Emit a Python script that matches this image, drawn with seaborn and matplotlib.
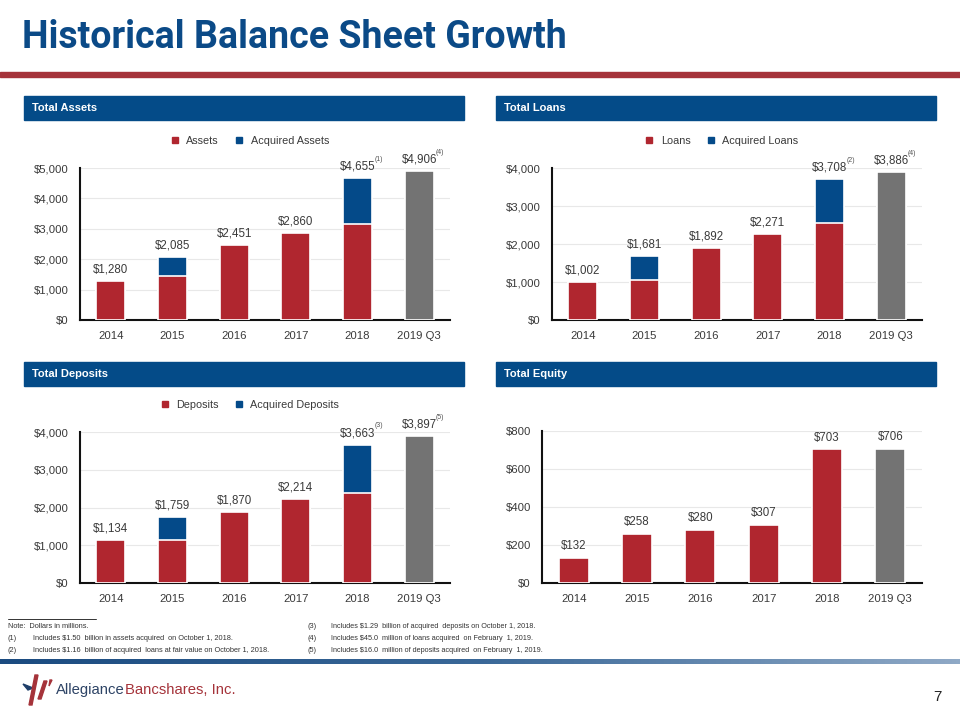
import numpy as np
import pandas as pd
import seaborn as sns
import matplotlib.pyplot as plt
from matplotlib.patches import Rectangle, Polygon
from matplotlib.lines import Line2D
from matplotlib.ticker import FuncFormatter
from matplotlib.colors import LinearSegmentedColormap

sns.set_style("white")
plt.rcParams['font.family'] = ['Liberation Sans', 'DejaVu Sans']

# data (dollars in millions)
years = ["2014", "2015", "2016", "2017", "2018", "2019 Q3"]

assets_total = [1280, 2085, 2451, 2860, 4655, 4906]
assets_acquired = [0, 635, 0, 0, 1500, 0]
loans_total = [1002, 1681, 1892, 2271, 3708, 3886]
loans_acquired = [0, 621, 0, 0, 1160, 0]
deposits_total = [1134, 1759, 1870, 2214, 3663, 3897]
deposits_acquired = [0, 629, 0, 0, 1290, 0]
equity_total = [132, 258, 280, 307, 703, 706]

assets_notes = ["", "", "", "", "(1)", "(4)"]
loans_notes = ["", "", "", "", "(2)", "(4)"]
deposits_notes = ["", "", "", "", "(3)", "(5)"]

RED = "#B0262F"
BLUE = "#044A89"
GRAY = "#737373"
HEAD = "#044B88"
TXT = "#3A3A3A"

fig = plt.figure(figsize=(9.6, 7.2), dpi=100)


def px(x, y):
    return x / 960, 1 - y / 720


def box(x0, y0, x1, y1):
    # axes rectangle from pixel corners
    return [x0 / 960, 1 - y1 / 720, (x1 - x0) / 960, (y1 - y0) / 720]


# title and rule
fig.text(*px(22, 37), "Historical Balance Sheet Growth", fontsize=27, fontweight="bold",
         color="#0B4A87", va="center", ha="left", family=["Roboto", "Liberation Sans"])
fig.patches.append(Rectangle(px(0, 77), 1, 5 / 720, transform=fig.transFigure,
                             color="#A5333A", zorder=0))

# panel headers
heads = [("Total Assets", 24, 96), ("Total Loans", 496, 96),
         ("Total Deposits", 24, 362), ("Total Equity", 496, 362)]
for name, hx, hy in heads:
    fig.patches.append(Rectangle(px(hx, hy + 24), 440 / 960, 24 / 720,
                                 transform=fig.transFigure, color=HEAD, zorder=0))
    fig.text(*px(hx + 8, hy + 12), name, color="white", fontsize=8,
             fontweight="bold", va="center", ha="left")


def money(v, pos=None):
    return "${:,.0f}".format(v)


def panel(rect, total, acquired, notes, ymax, step, legend_names):
    ax = fig.add_axes(rect)
    base = [t - a for t, a in zip(total, acquired)]
    colors = [RED] * 5 + [GRAY]
    df = pd.DataFrame({"year": years, "total": total, "base": base})
    if any(acquired):
        sns.barplot(data=df, x="year", y="total", color=BLUE, width=0.47, saturation=1,
                    edgecolor="white", linewidth=1.2, ax=ax, zorder=2)
    sns.barplot(data=df, x="year", y="base", hue="year", palette=colors, saturation=1,
                legend=False, width=0.47, edgecolor="white", linewidth=1.2,
                ax=ax, zorder=3)
    ax.set_ylim(0, ymax)
    ax.set_xlim(-0.5, 5.5)
    ax.set_yticks(np.arange(0, ymax + 1, step))
    ax.yaxis.set_major_formatter(FuncFormatter(money))
    ax.grid(axis="y", color="#E8E8E8", linewidth=0.8, zorder=0)
    ax.set_axisbelow(True)
    for s in ["top", "right"]:
        ax.spines[s].set_visible(False)
    for s in ["left", "bottom"]:
        ax.spines[s].set_color("#111111")
        ax.spines[s].set_linewidth(1.5)
    ax.tick_params(length=0, labelsize=8.2, labelcolor=TXT, pad=8)
    ax.set_xlabel("")
    ax.set_ylabel("")
    for i, t in enumerate(total):
        ax.annotate(money(t), (i, t), xytext=(0, 4), textcoords="offset points",
                    ha="center", va="bottom", fontsize=8.3, color=TXT)
        if notes and notes[i]:
            ax.annotate(notes[i], (i, t), xytext=(12, 11), textcoords="offset points",
                        ha="left", va="bottom", fontsize=5, color="#555555")
    if legend_names:
        handles = [Line2D([], [], marker="s", ls="", color=RED, markersize=4),
                   Line2D([], [], marker="s", ls="", color=BLUE, markersize=4)]
        ax.legend(handles, legend_names, loc="center", bbox_to_anchor=(0.45, 1.18),
                  ncol=2, frameon=False, fontsize=7.8, handletextpad=0.05,
                  columnspacing=0.9, labelcolor=TXT)
    return ax


panel(box(80, 168, 450, 320), assets_total, assets_acquired, assets_notes,
      5000, 1000, ["Assets", "Acquired Assets"])
panel(box(552, 168, 922, 320), loans_total, loans_acquired, loans_notes,
      4000, 1000, ["Loans", "Acquired Loans"])
panel(box(80, 432, 450, 583), deposits_total, deposits_acquired, deposits_notes,
      4000, 1000, ["Deposits", "Acquired Deposits"])
panel(box(542, 431, 922, 583), equity_total, [0] * 6, None, 800, 200, None)

# footnotes
fig.add_artist(Line2D([8 / 960, 96 / 960], [1 - 619 / 720] * 2, color="#333333", lw=0.7))
notes_left = [("", "Note:  Dollars in millions."),
              ("(1)", "Includes $1.50  billion in assets acquired  on October 1, 2018."),
              ("(2)", "Includes $1.16  billion of acquired  loans at fair value on October 1, 2018.")]
notes_right = [("(3)", "Includes $1.29  billion of acquired  deposits on October 1, 2018."),
               ("(4)", "Includes $45.0  million of loans acquired  on February  1, 2019."),
               ("(5)", "Includes $16.0  million of deposits acquired  on February  1, 2019.")]
for k, (n, t) in enumerate(notes_left):
    y = 627 + k * 11.5
    if n:
        fig.text(*px(8, y), n, fontsize=5.3, color="#333333", va="center")
        fig.text(*px(33, y), t, fontsize=5.3, color="#333333", va="center")
    else:
        fig.text(*px(8, y), t, fontsize=5.3, color="#333333", va="center")
for k, (n, t) in enumerate(notes_right):
    y = 627 + k * 11.5
    fig.text(*px(308, y), n, fontsize=5.3, color="#333333", va="center")
    fig.text(*px(331, y), t, fontsize=5.2, color="#333333", va="center")

# gradient band
gax = fig.add_axes(box(0, 659, 960, 664))
cmap = LinearSegmentedColormap.from_list("band", ["#1B4B80", "#3A6898", "#8FA9C6"])
gax.imshow(np.linspace(0, 1, 256)[None, :], aspect="auto", cmap=cmap)
gax.axis("off")

# logo
fig.patches.append(Polygon([px(23, 684), px(33, 688), px(28, 690)], closed=True,
                           transform=fig.transFigure, color="#1F3F6A"))
fig.patches.append(Polygon([px(35, 675), px(38, 675), px(32, 705), px(29, 705)], closed=True,
                           transform=fig.transFigure, color="#A5333A"))
fig.patches.append(Polygon([px(44, 681), px(47, 681), px(41, 699), px(38, 699)], closed=True,
                           transform=fig.transFigure, color="#A5333A"))
fig.patches.append(Polygon([px(50, 680), px(52, 680), px(49, 686)], closed=True,
                           transform=fig.transFigure, color="#A5333A"))
logo_ax = fig.add_axes([0, 0, 1, 1], facecolor="none")
logo_ax.axis("off")
t1 = logo_ax.text(*px(56, 690), "Allegiance", fontsize=10.7, color="#2E4466", va="center",
                  transform=logo_ax.transAxes)
logo_ax.annotate("Bancshares, Inc.", xy=(1, 0.5), xycoords=t1, va="center", ha="left",
                 fontsize=10.7, color="#A5333A")
fig.text(*px(937, 697), "7", fontsize=11, color="#222222", va="center", ha="center")

fig.savefig("out.png", dpi=100)
